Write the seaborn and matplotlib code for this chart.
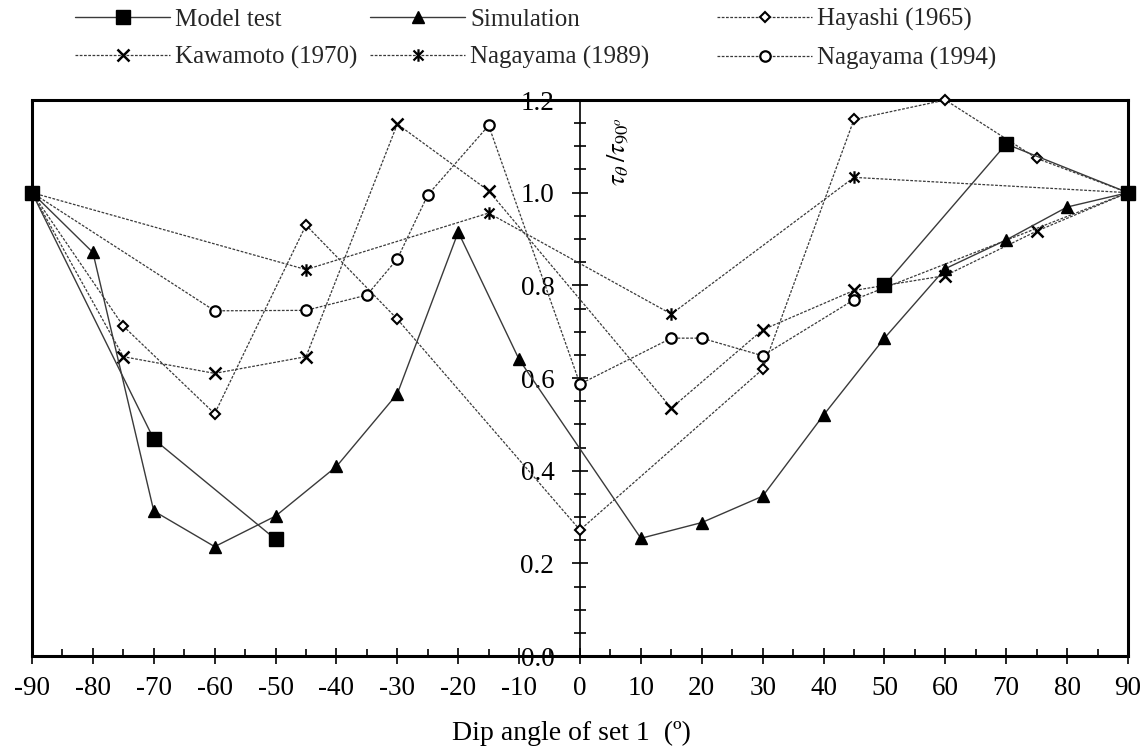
import numpy as np
import matplotlib
matplotlib.use("Agg")
import matplotlib.pyplot as plt
import seaborn as sns
from matplotlib.path import Path
from matplotlib.ticker import MultipleLocator, FormatStrFormatter

# ---------------- data ----------------
model_x = [-90, -70, -50, 0, 50, 70, 90]
model_y = [1.0, 0.468, 0.252, np.nan, 0.800, 1.105, 1.0]

sim_x = [-90, -80, -70, -60, -50, -40, -30, -20, -10, 10, 20, 30, 40, 50, 60, 70, 80, 90]
sim_y = [1.0, 0.871, 0.313, 0.236, 0.302, 0.409, 0.566, 0.915, 0.640,
         0.254, 0.288, 0.345, 0.520, 0.686, 0.836, 0.898, 0.969, 1.0]

hayashi_x = [-90, -75, -60, -45, -30, 0, 30, 45, 60, 75, 90]
hayashi_y = [1.0, 0.712, 0.523, 0.930, 0.727, 0.272, 0.619, 1.158, 1.200, 1.074, 1.0]

kawamoto_x = [-90, -75, -60, -45, -30, -15, 15, 30, 45, 60, 75, 90]
kawamoto_y = [1.0, 0.646, 0.610, 0.646, 1.148, 1.004, 0.535, 0.704, 0.789, 0.821, 0.917, 1.0]

nag89_x = [-90, -45, -15, 15, 45, 90]
nag89_y = [1.0, 0.834, 0.956, 0.738, 1.033, 1.0]

nag94_x = [-90, -60, -45, -35, -30, -25, -15, 0, 15, 20, 30, 45, 90]
nag94_y = [1.0, 0.745, 0.746, 0.779, 0.857, 0.995, 1.145, 0.587, 0.686, 0.686, 0.648, 0.769, 1.0]

x_ticks = list(range(-90, 91, 10))
y_ticks = [0.0, 0.2, 0.4, 0.6, 0.8, 1.0, 1.2]

# ---------------- style ----------------
sns.set_theme(style="white")
plt.rcParams["font.family"] = ["Liberation Serif", "DejaVu Serif"]
plt.rcParams["mathtext.fontset"] = "stix"
plt.rcParams["axes.unicode_minus"] = False

fig = plt.figure(figsize=(11.45, 7.48), dpi=100)
ax = fig.add_axes([32 / 1145, 1 - 656 / 748, 1096 / 1145, 556 / 748])

star = Path([(0, -1), (0, 1), (-0.8, -0.8), (0.8, 0.8), (-0.8, 0.8), (0.8, -0.8)],
            [Path.MOVETO, Path.LINETO] * 3)

dash = (0, (2.2, 1.2))
line_col = "#3a3a3a"


def draw(xs, ys, z=5, **kw):
    xs = np.asarray(xs, float)
    ys = np.asarray(ys, float)
    mask = ~np.isnan(ys)
    segs = []
    cur = []
    for i in range(len(xs)):
        if mask[i]:
            cur.append(i)
        elif cur:
            segs.append(cur)
            cur = []
    if cur:
        segs.append(cur)
    h = None
    for s in segs:
        sns.lineplot(x=xs[s], y=ys[s], ax=ax, sort=False, estimator=None,
                     clip_on=False, zorder=z, **kw)
        h = ax.lines[-1]
    return h


h_model = draw(model_x, model_y, z=7, color=line_col, lw=1.0, linestyle="-",
               marker="s", markersize=9.5, mfc="black", mec="black", mew=1)
h_sim = draw(sim_x, sim_y, z=6, color=line_col, lw=1.0, linestyle="-",
             marker="^", markersize=9, mfc="black", mec="black", mew=1)
h_hay = draw(hayashi_x, hayashi_y, color=line_col, lw=0.9, linestyle=dash,
             marker="D", markersize=5.5, mfc="white", mec="black", mew=1.5)
h_kaw = draw(kawamoto_x, kawamoto_y, color=line_col, lw=0.9, linestyle=dash,
             marker="x", markersize=8, mfc="black", mec="black", mew=1.8)
h_n89 = draw(nag89_x, nag89_y, color=line_col, lw=0.9, linestyle=dash,
             marker=star, markersize=9, mfc="black", mec="black", mew=1.6)
h_n94 = draw(nag94_x, nag94_y, color=line_col, lw=0.9, linestyle=dash,
             marker="o", markersize=7.5, mfc="white", mec="black", mew=1.6)

ax.set_xlim(-90, 90)
ax.set_ylim(0, 1.2)

# axes / spines
ax.spines["left"].set_position(("data", 0))
ax.spines["left"].set_linewidth(1.2)
ax.spines["left"].set_color("black")
for s in ["top", "right", "bottom"]:
    ax.spines[s].set_linewidth(2.2)
    ax.spines[s].set_color("black")
    ax.spines[s].set_visible(True)
ax.axvline(-90, color="black", lw=2.2, clip_on=False, zorder=4)

ax.set_xticks(x_ticks)
ax.xaxis.set_minor_locator(MultipleLocator(5))
ax.set_yticks(y_ticks)
ax.yaxis.set_minor_locator(MultipleLocator(0.05))
ax.yaxis.set_major_formatter(FormatStrFormatter("%.1f"))
ax.xaxis.set_ticks_position("bottom")
ax.yaxis.set_ticks_position("left")

ax.tick_params(axis="x", which="major", direction="inout", length=12, width=1.2,
               colors="black", labelsize=19.5, pad=8.5, bottom=True)
ax.tick_params(axis="x", which="minor", direction="in", length=5, width=1.2,
               colors="black", bottom=True)
ax.tick_params(axis="y", which="major", direction="inout", length=12, width=1.2,
               colors="black", labelsize=19.5, pad=12.5, left=True)
ax.tick_params(axis="y", which="minor", direction="inout", length=8.5, width=1.2,
               colors="black", left=True)

ax.set_xlabel("Dip angle of set 1  (º)", fontsize=20, color="black")
ax.xaxis.set_label_coords(0.492, -0.116)

ax.text(6.1, 1.088, r"$\tau_{\theta}\,/\tau_{90^{o}}$", rotation=90, fontsize=19,
        ha="center", va="center", color="black")

# legend: three columns of two entries each
cols = [([h_model, h_kaw], ["Model test", "Kawamoto (1970)"], 75),
        ([h_sim, h_n89], ["Simulation", "Nagayama (1989)"], 370),
        ([h_hay, h_n94], ["Hayashi (1965)", "Nagayama (1994)"], 717)]
for hs, labs, px in cols:
    fig.legend(hs, labs, loc="upper left", bbox_to_anchor=(px / 1145, 0.989),
               frameon=False, borderpad=0, borderaxespad=0, handlelength=3.8,
               handletextpad=0.2, labelspacing=0.62, fontsize=18, numpoints=1)

fig.savefig("out.png", dpi=100)
